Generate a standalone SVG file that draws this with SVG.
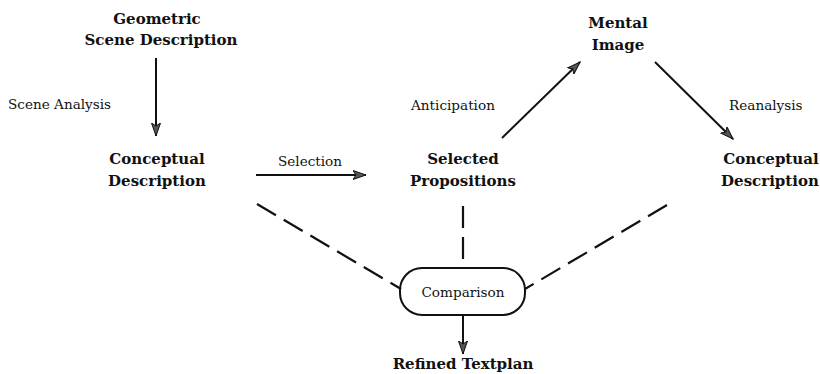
<svg xmlns="http://www.w3.org/2000/svg" width="820" height="374" viewBox="0 0 820 374">
<style>
.n{font-family:"DejaVu Serif","Liberation Serif",serif;font-weight:bold;font-size:15px;fill:#111;text-anchor:middle}
.l{font-family:"DejaVu Serif","Liberation Serif",serif;font-size:13.6px;fill:#111}
.c{stroke:#111;stroke-width:2;fill:none}
.d{stroke:#111;stroke-width:2.2;fill:none;stroke-dasharray:22 9}
</style>
<defs>
<marker id="ah" markerWidth="14" markerHeight="10" refX="13" refY="5" orient="auto" markerUnits="userSpaceOnUse">
<path d="M0,0.5 L13,5 L0,9.5 L3,5 Z" fill="#555" stroke="#111" stroke-width="1"/>
</marker>
</defs>
<rect width="820" height="374" fill="#fff"/>
<g id="geometric"><text class="n" x="157" y="24">Geometric</text><text class="n" x="161" y="45">Scene Description</text></g>
<g id="conceptual1"><text class="n" x="157" y="164">Conceptual</text><text class="n" x="157" y="186">Description</text></g>
<g id="selected"><text class="n" x="463" y="164">Selected</text><text class="n" x="463" y="186">Propositions</text></g>
<g id="mental"><text class="n" x="618" y="28">Mental</text><text class="n" x="618" y="50">Image</text></g>
<g id="conceptual2"><text class="n" x="771" y="164">Conceptual</text><text class="n" x="770" y="186">Description</text></g>
<g id="comparison"><rect x="400" y="268" width="125" height="47" rx="22" ry="22" fill="#fff" stroke="#111" stroke-width="2"/><text class="l" x="463" y="297" text-anchor="middle">Comparison</text></g>
<g id="refined"><text class="n" x="463" y="369">Refined Textplan</text></g>
<g id="connectors">
<line class="c" x1="156" y1="58" x2="156" y2="136" marker-end="url(#ah)"/>
<line class="c" x1="256" y1="175" x2="366" y2="175" marker-end="url(#ah)"/>
<line class="c" x1="502" y1="138" x2="580" y2="62" marker-end="url(#ah)"/>
<line class="c" x1="655" y1="62" x2="733" y2="139" marker-end="url(#ah)"/>
<line class="c" x1="463" y1="315" x2="463" y2="354" marker-end="url(#ah)"/>
<line class="d" x1="257" y1="204" x2="401" y2="289"/>
<line class="d" x1="463" y1="206" x2="463" y2="268"/>
<line class="d" x1="667" y1="205" x2="525" y2="289"/>
</g>
<g id="labels">
<text class="l" x="8" y="109">Scene Analysis</text>
<text class="l" x="310" y="166" text-anchor="middle">Selection</text>
<text class="l" x="411" y="110">Anticipation</text>
<text class="l" x="729" y="110">Reanalysis</text>
</g>
</svg>
